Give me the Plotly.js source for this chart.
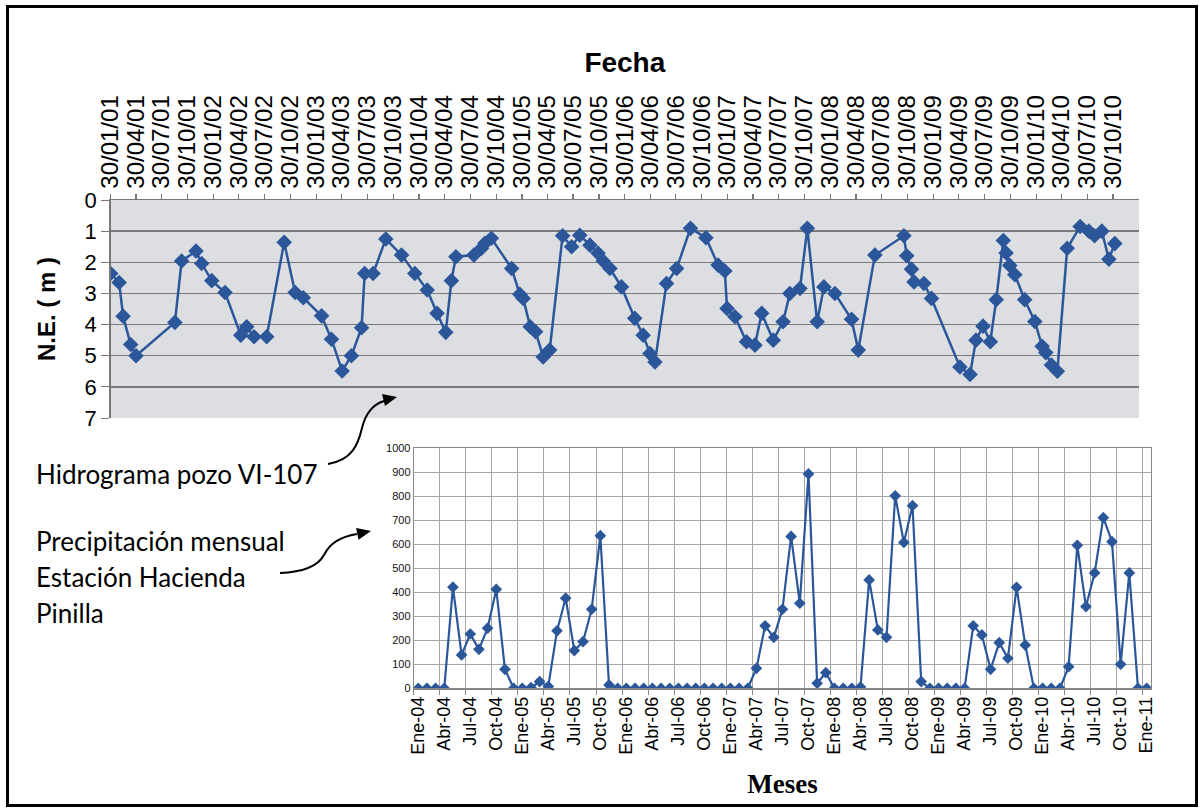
<!DOCTYPE html>
<html><head><meta charset="utf-8">
<script src="https://cdn.plot.ly/plotly-3.0.1.min.js"></script>
<style>
html,body{margin:0;padding:0;background:#fff;}
#wrap{position:relative;width:1203px;height:812px;overflow:hidden;background:#fff;}
#chart{position:absolute;left:0;top:0;width:1203px;height:812px;}
#frame{position:absolute;left:6px;top:5px;width:1186px;height:796px;border:3px solid #000;pointer-events:none;}
#arrows{position:absolute;left:0;top:0;pointer-events:none;}
</style></head><body>
<div id="wrap">
<div id="chart"></div>
<div id="frame"></div>
<svg id="arrows" width="1203" height="812">
  <path d="M 328 464 C 352 460, 358 445, 362 428 C 366 412, 374 404, 384 401" stroke="#000" stroke-width="2" fill="none"/>
  <polygon points="397,397 385,406 382,394" fill="#000"/>
  <path d="M 280 573 C 305 572, 318 566, 324 555 C 330 543, 340 537, 357 534" stroke="#000" stroke-width="2" fill="none"/>
  <polygon points="371,531 358.5,539.7 356.1,527.9" fill="#000"/>
</svg>
</div>
<script>
// ---- Hidrograma pozo VI-107 (N.E. en m) ----
const levelDates = [
 '2001-01-30','2001-03-01','2001-03-15','2001-04-11','2001-04-30',
 '2001-09-15','2001-10-09','2001-11-29','2001-12-19','2002-01-24','2002-03-12',
 '2002-05-07','2002-05-28','2002-06-23','2002-08-07','2002-10-08','2002-11-16',
 '2002-12-15','2003-02-18','2003-03-25','2003-05-02','2003-06-04','2003-07-10',
 '2003-07-21','2003-08-20','2003-10-04','2003-11-29','2004-01-15','2004-02-28',
 '2004-04-03','2004-05-04','2004-05-24','2004-06-09','2004-08-12','2004-09-08',
 '2004-09-20','2004-10-13','2004-12-24','2005-01-22','2005-02-03','2005-02-28',
 '2005-03-19','2005-04-15','2005-05-08','2005-06-23','2005-07-25','2005-08-23',
 '2005-09-28','2005-10-27','2005-11-14','2005-12-08','2006-01-18','2006-03-06',
 '2006-04-05','2006-04-29','2006-05-17','2006-06-27','2006-08-02','2006-09-20',
 '2006-11-14','2006-12-27','2007-01-20','2007-01-28','2007-02-25','2007-04-07',
 '2007-05-07','2007-05-31','2007-07-11','2007-08-15','2007-09-08','2007-10-14',
 '2007-11-09','2007-12-14','2008-01-07','2008-02-15','2008-04-14','2008-05-08',
 '2008-07-06','2008-10-17','2008-10-27','2008-11-13','2008-11-22','2008-12-27',
 '2009-01-23','2009-05-04','2009-06-09','2009-06-30','2009-07-25','2009-08-20',
 '2009-09-10','2009-10-05','2009-10-15','2009-10-28','2009-11-15','2009-12-20',
 '2010-01-25','2010-02-20','2010-03-05','2010-03-25','2010-04-15','2010-05-20',
 '2010-07-05','2010-08-05','2010-08-25','2010-09-20','2010-10-15','2010-11-05'
];
const levels = [
 2.36,2.65,3.73,4.64,5.0,
 3.93,1.96,1.64,2.04,2.59,2.97,
 4.34,4.07,4.39,4.39,1.36,2.97,
 3.14,3.72,4.47,5.49,5.0,4.1,
 2.36,2.36,1.25,1.77,2.36,2.89,
 3.64,4.25,2.59,1.82,1.77,1.55,
 1.39,1.23,2.2,3.03,3.16,4.07,
 4.23,5.04,4.82,1.15,1.5,1.13,
 1.45,1.71,1.96,2.2,2.79,3.8,
 4.34,4.93,5.2,2.68,2.2,0.91,
 1.21,2.09,2.28,3.48,3.75,4.55,
 4.66,3.64,4.5,3.91,3.0,2.84,
 0.91,3.91,2.79,3.0,3.83,4.82,
 1.77,1.15,1.79,2.22,2.63,2.68,
 3.16,5.36,5.6,4.5,4.05,4.55,
 3.2,1.3,1.7,2.1,2.4,3.2,
 3.9,4.7,4.9,5.3,5.5,1.55,
 0.85,1.0,1.15,1.0,1.9,1.4
];
const dateTicks = [
 '2001-01-30','2001-04-30','2001-07-30','2001-10-30',
 '2002-01-30','2002-04-30','2002-07-30','2002-10-30',
 '2003-01-30','2003-04-30','2003-07-30','2003-10-30',
 '2004-01-30','2004-04-30','2004-07-30','2004-10-30',
 '2005-01-30','2005-04-30','2005-07-30','2005-10-30',
 '2006-01-30','2006-04-30','2006-07-30','2006-10-30',
 '2007-01-30','2007-04-30','2007-07-30','2007-10-30',
 '2008-01-30','2008-04-30','2008-07-30','2008-10-30',
 '2009-01-30','2009-04-30','2009-07-30','2009-10-30',
 '2010-01-30','2010-04-30','2010-07-30','2010-10-30'
];
const dateTickLabels = [
 '30/01/01','30/04/01','30/07/01','30/10/01',
 '30/01/02','30/04/02','30/07/02','30/10/02',
 '30/01/03','30/04/03','30/07/03','30/10/03',
 '30/01/04','30/04/04','30/07/04','30/10/04',
 '30/01/05','30/04/05','30/07/05','30/10/05',
 '30/01/06','30/04/06','30/07/06','30/10/06',
 '30/01/07','30/04/07','30/07/07','30/10/07',
 '30/01/08','30/04/08','30/07/08','30/10/08',
 '30/01/09','30/04/09','30/07/09','30/10/09',
 '30/01/10','30/04/10','30/07/10','30/10/10'
];

// ---- Precipitación mensual, Estación Hacienda Pinilla (mm) ----
const months = [
 'Ene-04','Feb-04','Mar-04','Abr-04','May-04','Jun-04','Jul-04','Ago-04','Sep-04','Oct-04','Nov-04','Dic-04',
 'Ene-05','Feb-05','Mar-05','Abr-05','May-05','Jun-05','Jul-05','Ago-05','Sep-05','Oct-05','Nov-05','Dic-05',
 'Ene-06','Feb-06','Mar-06','Abr-06','May-06','Jun-06','Jul-06','Ago-06','Sep-06','Oct-06','Nov-06','Dic-06',
 'Ene-07','Feb-07','Mar-07','Abr-07','May-07','Jun-07','Jul-07','Ago-07','Sep-07','Oct-07','Nov-07','Dic-07',
 'Ene-08','Feb-08','Mar-08','Abr-08','May-08','Jun-08','Jul-08','Ago-08','Sep-08','Oct-08','Nov-08','Dic-08',
 'Ene-09','Feb-09','Mar-09','Abr-09','May-09','Jun-09','Jul-09','Ago-09','Sep-09','Oct-09','Nov-09','Dic-09',
 'Ene-10','Feb-10','Mar-10','Abr-10','May-10','Jun-10','Jul-10','Ago-10','Sep-10','Oct-10','Nov-10','Dic-10',
 'Ene-11'
];
const rain2004 = [0,0,0,0,421,139,226,162,250,412,79,0];
const rain2005 = [0,3,28,8,239,375,157,194,329,635,14,0];
const rain2006 = [0,0,0,0,0,0,0,0,0,0,0,0];
const rain2007 = [0,0,0,83,260,212,329,632,354,892,21,65];
const rain2008 = [0,0,0,5,451,243,212,801,607,760,28,0];
const rain2009 = [0,0,0,0,260,222,79,190,125,420,180,0];
const rain2010 = [0,0,0,90,595,340,480,710,610,100,480,0];
const rain2011 = [0];
const rain = [].concat(rain2004,rain2005,rain2006,rain2007,rain2008,rain2009,rain2010,rain2011);

const W = 1203, H = 812;
const fx = p => p / W;
const fy = p => 1 - p / H;
const blue = '#2b579a';
const AR = 'Liberation Sans, Arial, sans-serif';

const traces = [
 {x: levelDates, y: levels, type: 'scatter', mode: 'lines+markers', xaxis: 'x', yaxis: 'y',
  line: {color: blue, width: 2.5}, marker: {symbol: 'diamond', size: 12, color: blue},
  hoverinfo: 'x+y', showlegend: false},
 {x: months, y: rain, type: 'scatter', mode: 'lines+markers', xaxis: 'x2', yaxis: 'y2',
  line: {color: blue, width: 2.2}, marker: {symbol: 'diamond', size: 9, color: blue},
  showlegend: false}
];

const layout = {
 width: W, height: H,
 margin: {l: 0, r: 0, t: 0, b: 0},
 paper_bgcolor: 'rgba(0,0,0,0)',
 plot_bgcolor: 'rgba(0,0,0,0)',
 font: {family: AR, color: '#000'},
 showlegend: false,
 xaxis: {
  type: 'date', side: 'top', anchor: 'y',
  domain: [fx(110.7), fx(1139)],
  range: ['2001-01-30', '2011-01-30'],
  tickmode: 'array', tickvals: dateTicks, ticktext: dateTickLabels,
  tickangle: -90, tickfont: {size: 24, family: AR, color: '#000'},
  ticks: 'outside', ticklen: 5, tickcolor: '#777', tickwidth: 1.2,
  showgrid: false, zeroline: false,
  showline: true, linecolor: '#777', linewidth: 1.5,
  automargin: false,
  title: {text: '<b>Fecha</b>', font: {size: 28, family: AR, color: '#000'}, standoff: 14}
 },
 yaxis: {
  anchor: 'x', domain: [fy(418), fy(200)],
  range: [7, 0], dtick: 1, tick0: 0,
  tickfont: {size: 22, family: AR, color: '#000'},
  ticks: 'outside', ticklen: 8, tickcolor: '#777',
  showgrid: true, gridcolor: '#7a7a7a', gridwidth: 1.5,
  zeroline: false, showline: true, linecolor: '#777', linewidth: 1.5,
  automargin: false,
  title: {text: '<b>N.E. ( m )</b>', font: {size: 24, family: AR, color: '#000'}, standoff: 22}
 },
 xaxis2: {
  type: 'category', anchor: 'y2',
  domain: [fx(413.9), fx(1151)],
  range: [-0.5, 84.5],
  tickmode: 'linear', tick0: 0, dtick: 3, tickson: 'boundaries',
  tickangle: -90, tickfont: {size: 18, family: AR, color: '#000'},
  ticks: 'outside', ticklen: 5, tickcolor: '#888',
  showgrid: true, gridcolor: '#a6a6a6', gridwidth: 1,
  showline: true, linecolor: '#888', linewidth: 1.2, mirror: true,
  automargin: false,
  title: {text: '<b>Meses</b>', font: {size: 27, family: 'Liberation Serif, Times New Roman, serif', color: '#000'}, standoff: 20}
 },
 yaxis2: {
  anchor: 'x2', domain: [fy(688.3), fy(448)],
  range: [0, 1000], dtick: 100, tick0: 0,
  tickfont: {size: 11, family: AR, color: '#111'},
  ticks: '', showgrid: true, gridcolor: '#a6a6a6', gridwidth: 1,
  zeroline: false, showline: true, linecolor: '#888', linewidth: 1.2, mirror: true,
  automargin: false
 },
 shapes: [
  {type: 'rect', xref: 'x domain', yref: 'y domain', x0: 0, x1: 1, y0: 0, y1: 1,
   fillcolor: '#dcdee2', line: {width: 0}, layer: 'below'}
 ],
 annotations: [
  {text: 'Hidrograma pozo VI-107', xref: 'paper', yref: 'paper', x: fx(34), y: fy(474),
   xanchor: 'left', yanchor: 'middle', showarrow: false, font: {family: 'Lato, Open Sans, sans-serif', size: 26, color: '#000'}},
  {text: 'Precipitación mensual', xref: 'paper', yref: 'paper', x: fx(34), y: fy(541),
   xanchor: 'left', yanchor: 'middle', showarrow: false, font: {family: 'Lato, Open Sans, sans-serif', size: 26, color: '#000'}},
  {text: 'Estación Hacienda', xref: 'paper', yref: 'paper', x: fx(34), y: fy(577),
   xanchor: 'left', yanchor: 'middle', showarrow: false, font: {family: 'Lato, Open Sans, sans-serif', size: 26, color: '#000'}},
  {text: 'Pinilla', xref: 'paper', yref: 'paper', x: fx(34), y: fy(613),
   xanchor: 'left', yanchor: 'middle', showarrow: false, font: {family: 'Lato, Open Sans, sans-serif', size: 26, color: '#000'}}
 ]
};

Plotly.newPlot('chart', traces, layout, {displayModeBar: false, staticPlot: true});
</script>
</body></html>
